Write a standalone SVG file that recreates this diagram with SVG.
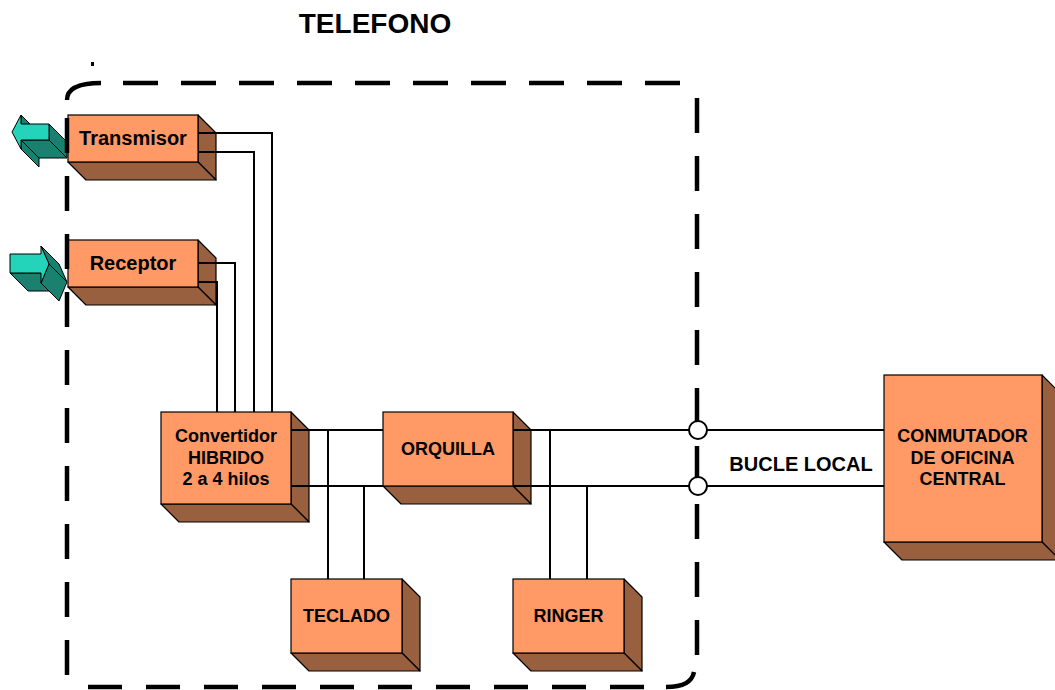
<svg xmlns="http://www.w3.org/2000/svg" width="1055" height="690" viewBox="0 0 1055 690">
<style>
.front{fill:#FF9966;stroke:#000;stroke-width:1.2}
.side{fill:#98603F;stroke:#000;stroke-width:1.2;stroke-linejoin:round}
.afront{fill:#24D4BA;stroke:#000;stroke-width:1;stroke-linejoin:round}
.aside{fill:#1B8070;stroke:#000;stroke-width:1;stroke-linejoin:round}
.lbl{font-family:"Liberation Sans",Arial,sans-serif;font-weight:bold;font-size:18px;text-anchor:middle;fill:#000}
.big{font-size:20px}
.wire{fill:none;stroke:#000;stroke-width:2}
.border{fill:none;stroke:#000;stroke-width:4.5}
.d1{stroke-dasharray:35 23}
.d2{stroke-dasharray:34 24}
.port{fill:#fff;stroke:#000;stroke-width:2}
</style>
<rect width="1055" height="690" fill="#fff"/>
<text class="lbl" x="375" y="33" style="font-size:28px">TELEFONO</text>

<g id="arrow-out">
<polygon class="aside" points="21,115 21,124 39,142 39,133"/>
<polygon class="aside" points="49,140 21,140 39,158 67,158"/>
<polygon class="aside" points="21,140 21,149 39,167 39,158"/>
<polygon class="aside" points="49,124 49,140 67,158 67,142"/>
<polygon class="afront" points="12,132 21,115 21,124 49,124 49,140 21,140 21,149"/>
</g>
<g id="arrow-in">
<polygon class="aside" points="41,273 10,273 28,291 59,291"/>
<polygon class="aside" points="41,246 49,264 67,282 59,264"/>
<polygon class="aside" points="49,264 41,283 59,301 67,282"/>
<polygon class="afront" points="10,254 41,254 41,246 49,264 41,283 41,273 10,273"/>
</g>

<g id="transmisor">
<polygon class="side" points="198,115 216,133 216,180 198,162"/>
<polygon class="side" points="68,162 198,162 216,180 86,180"/>
<rect class="front" x="68" y="115" width="130" height="47"/>
<text class="lbl big" x="133" y="145">Transmisor</text>
</g>
<g id="receptor">
<polygon class="side" points="198,240 216,258 216,305 198,287"/>
<polygon class="side" points="68,287 198,287 216,305 86,305"/>
<rect class="front" x="68" y="240" width="130" height="47"/>
<text class="lbl big" x="133" y="270">Receptor</text>
</g>
<g id="convertidor">
<polygon class="side" points="291,412 309,430 309,522 291,504"/>
<polygon class="side" points="161,504 291,504 309,522 179,522"/>
<rect class="front" x="161" y="412" width="130" height="92"/>
<text class="lbl" x="226" y="442">Convertidor</text>
<text class="lbl" x="226" y="463.5">HIBRIDO</text>
<text class="lbl" x="226" y="485">2 a 4 hilos</text>
</g>
<g id="orquilla">
<polygon class="side" points="513,412 531,430 531,504 513,486"/>
<polygon class="side" points="383,486 513,486 531,504 401,504"/>
<rect class="front" x="383" y="412" width="130" height="74"/>
<text class="lbl" x="448" y="455">ORQUILLA</text>
</g>
<g id="teclado">
<polygon class="side" points="402,579 420,597 420,671 402,653"/>
<polygon class="side" points="291,653 402,653 420,671 309,671"/>
<rect class="front" x="291" y="579" width="111" height="74"/>
<text class="lbl" x="346.5" y="622">TECLADO</text>
</g>
<g id="ringer">
<polygon class="side" points="624,579 642,597 642,671 624,653"/>
<polygon class="side" points="513,653 624,653 642,671 531,671"/>
<rect class="front" x="513" y="579" width="111" height="74"/>
<text class="lbl" x="568.5" y="622">RINGER</text>
</g>
<g id="conmutador">
<polygon class="side" points="1042,375 1060,393 1060,560 1042,542"/>
<polygon class="side" points="884,542 1042,542 1060,560 902,560"/>
<rect class="front" x="884" y="375" width="158" height="167"/>
<text class="lbl" x="962.5" y="442">CONMUTADOR</text>
<text class="lbl" x="962.5" y="463.5">DE OFICINA</text>
<text class="lbl" x="962.5" y="485">CENTRAL</text>
</g>

<g id="border">
<path class="border" d="M67,100 C67,90 77,83 101,83"/>
<path class="border d1" d="M123,83 H680"/>
<path class="border d1" d="M697,98 V655"/>
<path class="border" d="M666,687 C684,687 692,682 694,672"/>
<path class="border d2" d="M88,687 H644"/>
<path class="border d1" d="M67,118 V675"/>
<rect x="91" y="62" width="3" height="4" fill="#000"/>
</g>

<g id="connectors">
<path class="wire" d="M198,133 H272 V412"/>
<path class="wire" d="M198,152 H254 V412"/>
<path class="wire" d="M198,263 H235 V412"/>
<path class="wire" d="M198,282 H217 V412"/>
<path class="wire" d="M291,430 H383"/>
<path class="wire" d="M291,486 H383"/>
<path class="wire" d="M513,430 H884"/>
<path class="wire" d="M513,486 H884"/>
<path class="wire" d="M328,430 V579"/>
<path class="wire" d="M364,486 V579"/>
<path class="wire" d="M550,430 V579"/>
<path class="wire" d="M587,486 V579"/>
<circle class="port" cx="698" cy="430" r="9"/>
<circle class="port" cx="698" cy="486" r="9"/>
</g>
<text class="lbl big" x="801" y="471">BUCLE LOCAL</text>
</svg>
